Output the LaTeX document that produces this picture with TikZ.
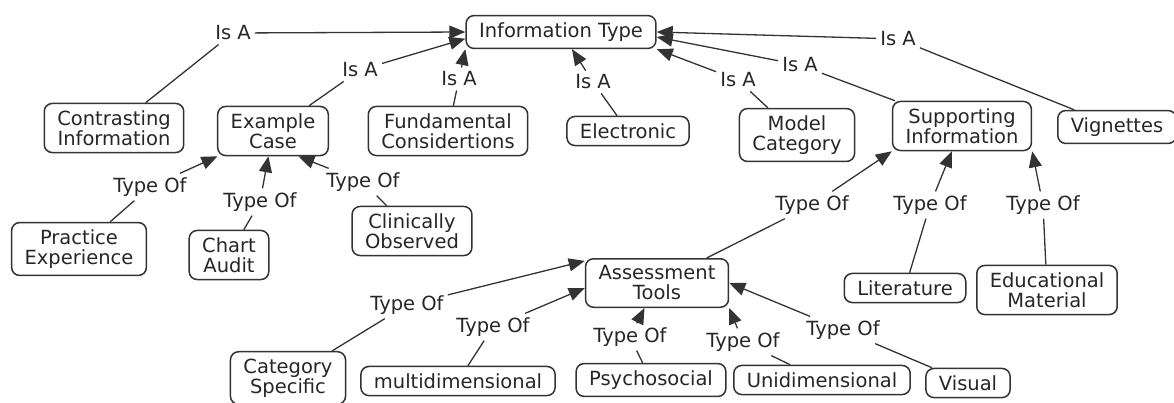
\documentclass[tikz,border=0pt]{standalone}
\usepackage{fontspec}
\setmainfont{DejaVu Sans}
\usetikzlibrary{arrows.meta, positioning}

\begin{document}
\begin{tikzpicture}[x=1pt, y=-1pt,
  concept/.style={draw=black!80, line width=1.5pt, rounded corners=8pt, align=center,
    inner xsep=13pt, inner ysep=7pt, font=\fontsize{19.5}{20}\selectfont, text=black!85},
  linkname/.style={font=\fontsize{19.5}{20}\selectfont, text=black!85, inner sep=4pt},
  link/.style={line width=1.3pt, draw=black!80},
  arr/.style={link, -{Triangle[length=16pt, width=13pt]}}]
\useasboundingbox (0,0) rectangle (1174,402);

% Concepts
\node[concept] (info) at (561,32) {Information Type};
\node[concept] (contr) at (114,128) {Contrasting\\Information};
\node[concept] (exc) at (273,131) {Example\\Case};
\node[concept] (fund) at (448,131) {Fundamental\\Considertions};
\node[concept] (elec) at (628,131) {Electronic};
\node[concept] (model) at (797,135) {Model\\Category};
\node[concept] (sup) at (962,126) {Supporting\\Information};
\node[concept] (vig) at (1117,127) {Vignettes};
\node[concept] (prac) at (79,249) {Practice\\Experience};
\node[concept] (chart) at (229,255) {Chart\\Audit};
\node[concept] (clin) at (412,231) {Clinically\\Observed};
\node[concept] (ast) at (657,283) {Assessment\\Tools};
\node[concept] (lit) at (905,288) {Literature};
\node[concept] (edu) at (1047,290) {Educational\\Material};
\node[concept] (cat) at (288,378) {Category\\Specific};
\node[concept] (multi) at (458,381) {multidimensional};
\node[concept] (psy) at (651,380) {Psychosocial};
\node[concept] (uni) at (822,380) {Unidimensional};
\node[concept] (vis) at (968,383) {Visual};

% Is A links
\node[linkname] (isaA) at (233,33) {Is A};
\node[linkname] (isaB) at (360,70) {Is A};
\node[linkname] (isaC) at (459,79) {Is A};
\node[linkname] (isaD) at (593,82) {Is A};
\node[linkname] (isaE) at (738,80) {Is A};
\node[linkname] (isaF) at (800,65) {Is A};
\node[linkname] (isaG) at (898,39) {Is A};

\draw[link] (contr) -- (isaA);
\draw[arr] (isaA) -- (info.west);
\draw[link] (exc) -- (isaB);
\draw[arr] (isaB) -- (info.-176);
\draw[link] (fund) -- (isaC);
\draw[arr] (isaC) -- (info.south west);
\draw[link] (elec) -- (isaD);
\draw[arr] (isaD) -- (info);
\draw[link] (model) -- (isaE);
\draw[arr] (isaE) -- (info.south east);
\draw[link] (sup) -- (isaF);
\draw[arr] (isaF) -- (info.-3);
\draw[link] (vig) -- (isaG);
\draw[arr] (isaG) -- (info.east);

% Type Of links
\node[linkname] (tA) at (150,187) {Type Of};
\node[linkname] (tB) at (260,202) {Type Of};
\node[linkname] (tC) at (363,182) {Type Of};
\node[linkname] (tD) at (812,205) {Type Of};
\node[linkname] (tE) at (930,205) {Type Of};
\node[linkname] (tF) at (1043,205) {Type Of};
\node[linkname] (tG) at (407,305) {Type Of};
\node[linkname] (tH) at (493,327) {Type Of};
\node[linkname] (tI) at (630,337) {Type Of};
\node[linkname] (tJ) at (743,342) {Type Of};
\node[linkname] (tK) at (843,330) {Type Of};

\draw[link] (prac) -- (tA);
\draw[arr] (tA) -- (exc);
\draw[link] (chart) -- (tB);
\draw[arr] (tB) -- (exc);
\draw[link] (clin) -- (tC);
\draw[arr] (tC) -- (exc.-45);
\draw[link] (ast) -- (tD);
\draw[arr] (tD) -- (sup.south west);
\draw[link] (lit) -- (tE);
\draw[arr] (tE) -- (sup);
\draw[link] (edu) -- (tF);
\draw[arr] (tF) -- (sup.south east);
\draw[link] (cat) -- (tG);
\draw[arr] (tG) -- (ast.163);
\draw[link] (multi) -- (tH);
\draw[arr] (tH) -- (ast.-176);
\draw[link] (psy) -- (tI);
\draw[arr] (tI) -- (ast);
\draw[link] (uni) -- (tJ);
\draw[arr] (tJ) -- (ast.south east);
\draw[link] (vis) -- (tK);
\draw[arr] (tK) -- (ast.east);
\end{tikzpicture}
\end{document}
